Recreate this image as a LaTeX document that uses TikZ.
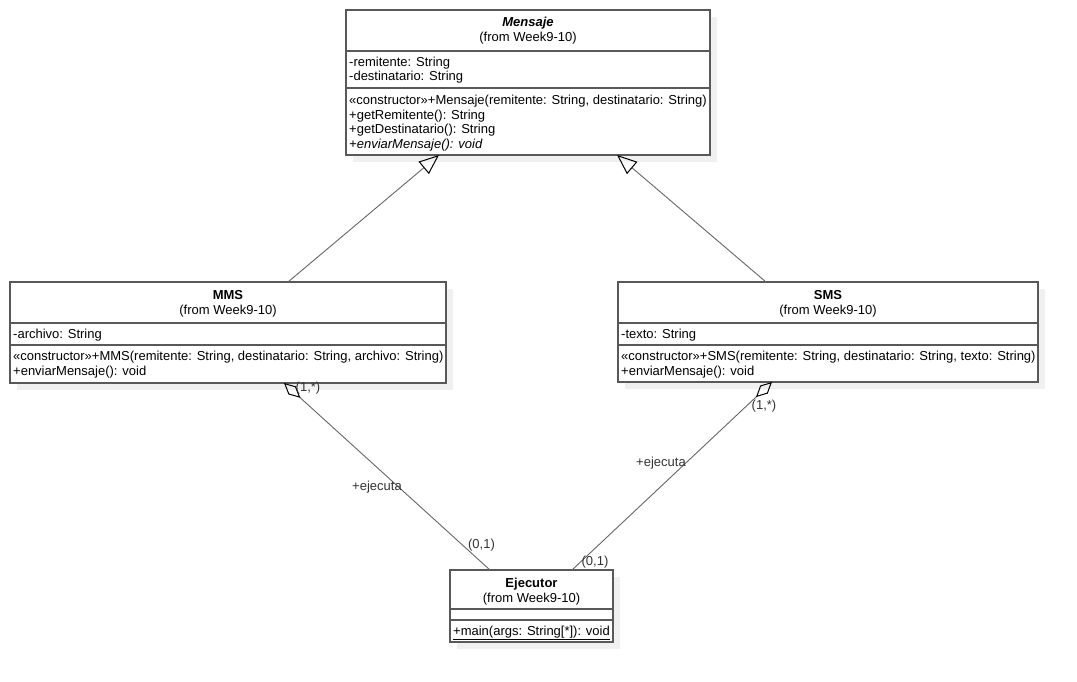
\documentclass[tikz,border=0pt]{standalone}
\usepackage{fontspec}
\setmainfont{Liberation Sans}
\usetikzlibrary{arrows.meta,shadows}

\begin{document}
\begin{tikzpicture}[x=1pt, y=-1pt, font=\fontsize{13}{14.6}\selectfont,
  cls/.style = {draw=black!65, line width=1.6pt, fill=white, anchor=north west, inner sep=0pt, outer sep=0pt,
    drop shadow={shadow xshift=7pt, shadow yshift=-7pt, fill=black!6, opacity=1}},
  sep/.style = {draw=black!65, line width=1.6pt},
  title/.style = {anchor=base, inner sep=0pt},
  txt/.style = {anchor=base west, align=left, inner sep=0pt},
  gen/.style = {draw=black!60, line width=0.9pt, -{Triangle[open, length=20pt, width=16pt, line width=1pt, color=black]}},
  agg/.style = {draw=black!60, line width=0.9pt, {Diamond[open, length=22pt, width=11pt, line width=1pt, color=black]}-},
  lbl/.style = {inner sep=0pt, text=black!80}]
  \useasboundingbox (0,0) rectangle (1077,682);

  % classes
  \node[cls, minimum width=364pt, minimum height=145pt] (mensaje) at (346,10) {};
  \node[cls, minimum width=436pt, minimum height=101pt] (mms) at (10,282) {};
  \node[cls, minimum width=420pt, minimum height=100pt] (sms) at (618,282) {};
  \node[cls, minimum width=163pt, minimum height=72pt] (ejecutor) at (450,570) {};

  \draw[sep] (mensaje.north west) ++(0,41) -- ++(364,0);
  \draw[sep] (mensaje.north west) ++(0,78) -- ++(364,0);
  \draw[sep] (mms.north west) ++(0,41) -- ++(436,0);
  \draw[sep] (mms.north west) ++(0,63) -- ++(436,0);
  \draw[sep] (sms.north west) ++(0,41) -- ++(420,0);
  \draw[sep] (sms.north west) ++(0,63) -- ++(420,0);
  \draw[sep] (ejecutor.north west) ++(0,39) -- ++(163,0);
  \draw[sep] (ejecutor.north west) ++(0,50) -- ++(163,0);

  % texts (base = last line)
  \node[title] (mensaje-n) at (528,27) {\textbf{\textit{Mensaje}}};
  \node[title] (mensaje-f) at (528,42) {(from Week9-10)};
  \node[txt] (mensaje-a) at (349,81) {-remitente: String\\-destinatario: String};
  \node[txt] (mensaje-o) at (349,148.5) {«constructor»+Mensaje(remitente: String, destinatario: String)\\+getRemitente(): String\\+getDestinatario(): String\\\textit{+enviarMensaje(): void}};

  \node[title] (mms-n) at (228,299) {\textbf{MMS}};
  \node[title] (mms-f) at (228,314) {(from Week9-10)};
  \node[txt] (mms-a) at (13,338) {-archivo: String};
  \node[txt] (mms-o) at (13,375.5) {«constructor»+MMS(remitente: String, destinatario: String, archivo: String)\\+enviarMensaje(): void};

  \node[title] (sms-n) at (828,299) {\textbf{SMS}};
  \node[title] (sms-f) at (828,314) {(from Week9-10)};
  \node[txt] (sms-a) at (621,338) {-texto: String};
  \node[txt] (sms-o) at (621,375.5) {«constructor»+SMS(remitente: String, destinatario: String, texto: String)\\+enviarMensaje(): void};

  \node[title] (ejecutor-n) at (531.5,587) {\textbf{Ejecutor}};
  \node[title] (ejecutor-f) at (531.5,602) {(from Week9-10)};
  \node[txt] (ejecutor-o) at (453,635.5) {\underline{+main(args: String[*]): void}};

  % relations
  \draw[gen] ([xshift=60pt]mms.north) -- ([xshift=-89pt]mensaje.south);
  \draw[gen] ([xshift=-62pt]sms.north) -- ([xshift=89pt]mensaje.south);
  \draw[agg] ([xshift=56pt]mms.south) -- ([xshift=-41.5pt]ejecutor.north);
  \draw[agg] ([xshift=-56pt]sms.south) -- ([xshift=40.5pt]ejecutor.north);

  \node[lbl] (mms-card) at (308,388.5) {(1,*)};
  \node[lbl] (mms-role) at (377,487.5) {+ejecuta};
  \node[lbl] (ej-card1) at (481.5,545.5) {(0,1)};
  \node[lbl] (sms-card) at (764,406) {(1,*)};
  \node[lbl] (sms-role) at (661,463.5) {+ejecuta};
  \node[lbl] (ej-card2) at (595,562.5) {(0,1)};
\end{tikzpicture}
\end{document}
